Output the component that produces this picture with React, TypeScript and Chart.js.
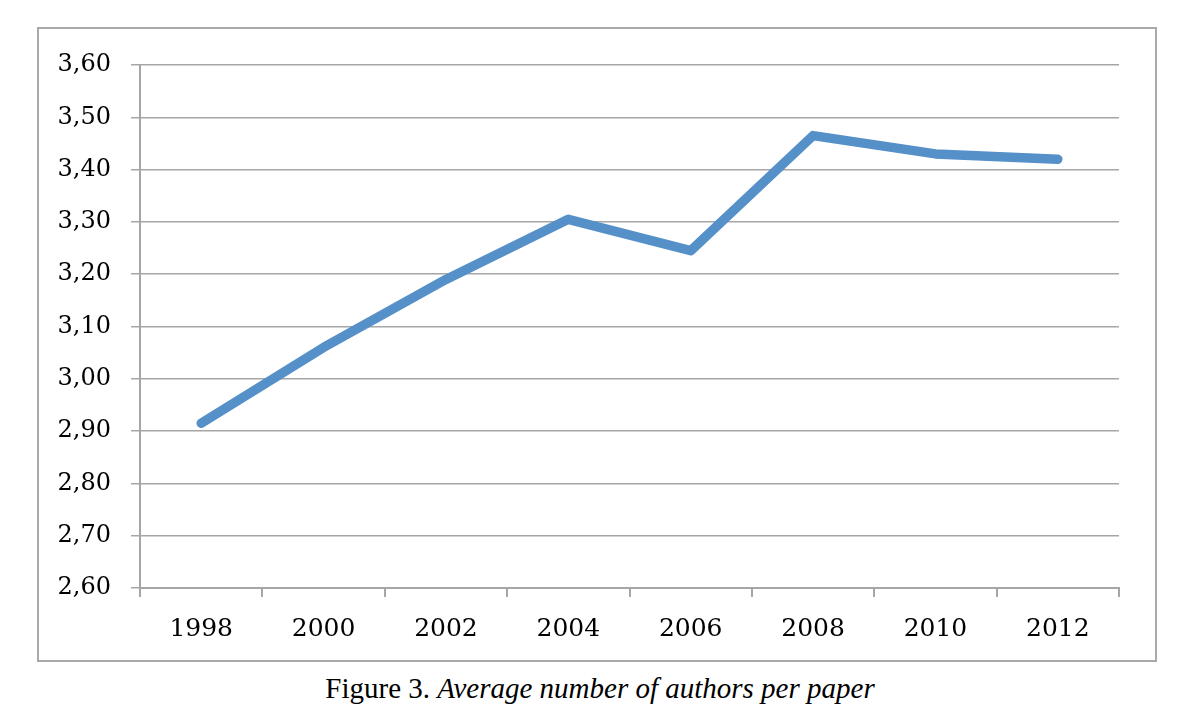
import React, { useEffect, useRef } from "react";
import { Chart, registerables } from "chart.js";

Chart.register(...registerables);

const years: string[] = ["1998", "2000", "2002", "2004", "2006", "2008", "2010", "2012"];
const avgAuthors: number[] = [2.915, 3.06, 3.19, 3.305, 3.245, 3.465, 3.43, 3.42];
const yTicks: number[] = [2.6, 2.7, 2.8, 2.9, 3.0, 3.1, 3.2, 3.3, 3.4, 3.5, 3.6];
const captionLead = "Figure 3.";
const captionText = "Average number of authors per paper";

const GRID = "#a6a6a6";
const LINE = "#5690c8";
const FONT = "'DejaVu Serif', serif";

export default function App() {
  const ref = useRef<HTMLCanvasElement | null>(null);

  useEffect(() => {
    if (!ref.current) return;
    const chart = new Chart(ref.current, {
      type: "line",
      data: {
        labels: years,
        datasets: [
          {
            data: avgAuthors,
            borderColor: LINE,
            backgroundColor: LINE,
            borderWidth: 9.5,
            borderCapStyle: "round",
            borderJoinStyle: "round",
            pointRadius: 0,
            pointHoverRadius: 0,
            tension: 0,
            fill: false,
          },
        ],
      },
      options: {
        responsive: false,
        animation: false,
        devicePixelRatio: 1,
        layout: { padding: { left: 0, right: 36, top: 36, bottom: 0 } },
        plugins: { legend: { display: false }, tooltip: { enabled: false }, title: { display: false } },
        scales: {
          x: {
            type: "category",
            offset: true,
            afterFit: (s: any) => {
              s.height = 72;
            },
            grid: {
              offset: true,
              drawOnChartArea: false,
              drawTicks: true,
              tickLength: 9,
              color: GRID,
              lineWidth: 2,
            },
            border: { display: true, color: GRID, width: 2 },
            ticks: {
              color: "#000",
              font: { family: FONT, size: 25 },
              padding: 17,
              maxRotation: 0,
              autoSkip: false,
            },
          },
          y: {
            min: 2.6,
            max: 3.6,
            afterFit: (s: any) => {
              s.width = 101;
            },
            afterBuildTicks: (s: any) => {
              s.ticks = yTicks.map((v) => ({ value: v }));
            },
            grid: {
              color: GRID,
              lineWidth: 1.5,
              drawTicks: true,
              tickLength: 9,
            },
            border: { display: true, color: GRID, width: 2 },
            ticks: {
              color: "#000",
              font: { family: FONT, size: 24 },
              padding: 20,
              callback: (v: any) => Number(v).toFixed(2).replace(".", ","),
            },
          },
        },
      },
    });
    return () => chart.destroy();
  }, []);

  return (
    <div style={{ position: "absolute", left: 0, top: 0, width: 1200, height: 716, background: "#fff" }}>
      <div
        style={{
          position: "absolute",
          left: 37,
          top: 27,
          width: 1120,
          height: 635,
          boxSizing: "border-box",
          border: "2px solid #a9a9a9",
        }}
      >
        <canvas ref={ref} width={1116} height={631} style={{ display: "block", width: 1116, height: 631 }} />
      </div>
      <div
        style={{
          position: "absolute",
          left: 0,
          top: 670,
          width: 1200,
          textAlign: "center",
          fontFamily: "'Liberation Serif', 'Times New Roman', serif",
          fontSize: 29,
          color: "#000",
          lineHeight: "36px",
        }}
      >
        {captionLead} <i>{captionText}</i>
      </div>
    </div>
  );
}
